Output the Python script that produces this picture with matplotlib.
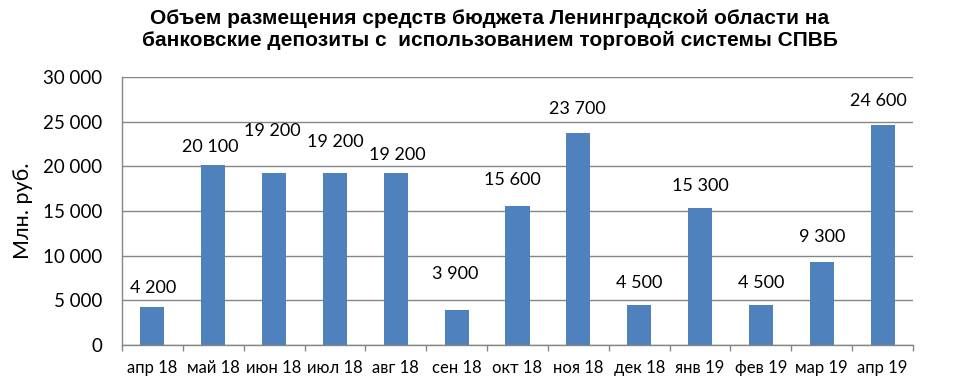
import matplotlib
matplotlib.use("Agg")
import matplotlib.pyplot as plt
from matplotlib.ticker import FuncFormatter, FixedLocator

categories = ["апр 18", "май 18", "июн 18", "июл 18", "авг 18", "сен 18", "окт 18",
              "ноя 18", "дек 18", "янв 19", "фев 19", "мар 19", "апр 19"]
values = [4200, 20100, 19200, 19200, 19200, 3900, 15600, 23700, 4500, 15300, 4500, 9300, 24600]
value_labels = ["4 200", "20 100", "19 200", "19 200", "19 200", "3 900", "15 600",
                "23 700", "4 500", "15 300", "4 500", "9 300", "24 600"]
# layout: vertical offset (pixels) of label centre above bar top
label_offsets_px = [19.5, 18.5, 42.5, 31.5, 18.5, 36, 25.5, 24, 22, 22, 22, 25, 24]
label_dx_px = [1, -3, -2, 0, 2, -1, -5, -1, 0, 0, 0, 0, -4]

title = "Объем размещения средств бюджета Ленинградской области на\nбанковские депозиты с  использованием торговой системы СПВБ"
ylabel = "Млн. руб."

W, H = 973, 391
fig = plt.figure(figsize=(W / 100, H / 100), dpi=100)
left, right, top, bottom = 122, 913, 77, 345
ax = fig.add_axes([left / W, 1 - bottom / H, (right - left) / W, (bottom - top) / H])

bar_color = "#4F81BD"
grid_color = "#868686"
font = ["Lato", "DejaVu Sans"]

x = list(range(len(categories)))
ax.bar(x, values, width=0.395, color=bar_color, zorder=3)
ax.set_xlim(-0.5, len(categories) - 0.5)
ax.set_ylim(0, 30000)

ax.yaxis.set_major_locator(FixedLocator([0, 5000, 10000, 15000, 20000, 25000, 30000]))
ax.yaxis.set_major_formatter(FuncFormatter(lambda v, p: f"{int(v):,}".replace(",", " ")))
ax.grid(axis="y", color=grid_color, linewidth=1.0, zorder=0)
ax.tick_params(axis="y", length=0, pad=14, labelsize=13.5, labelcolor="black")
for lab in ax.get_yticklabels():
    lab.set_fontfamily(font)

# x ticks: marks at boundaries, labels at centres
ax.set_xticks([i - 0.5 for i in range(len(categories) + 1)])
ax.set_xticklabels([])
ax.set_xticks(x, minor=True)
ax.set_xticklabels(categories, minor=True, fontfamily=font, fontsize=12)
ax.tick_params(axis="x", which="major", length=4, width=1, color=grid_color, direction="out")
ax.tick_params(axis="x", which="minor", length=0, pad=11)

for s in ["top", "right"]:
    ax.spines[s].set_visible(False)
for s in ["left", "bottom"]:
    ax.spines[s].set_color(grid_color)
    ax.spines[s].set_linewidth(1.0)
ax.spines["bottom"].set_zorder(4)

for i, (v, t) in enumerate(zip(values, value_labels)):
    ax.annotate(t, xy=(i, v), xytext=(label_dx_px[i] * 0.72, label_offsets_px[i] * 0.72),
                textcoords="offset points", ha="center", va="center",
                fontsize=13, fontfamily=font, color="black")

ax.set_ylabel(ylabel, fontsize=15.5, fontfamily=font)
ax.yaxis.set_label_coords(-(122 - 33) / (right - left), 0.5)

fig.text(490 / W, 1 - 30 / H, title, ha="center", va="center",
         fontsize=15, fontweight="bold", linespacing=1.2,
         fontfamily=["Liberation Sans Narrow", "Liberation Sans", "DejaVu Sans"])

fig.savefig("out.png", dpi=100)
